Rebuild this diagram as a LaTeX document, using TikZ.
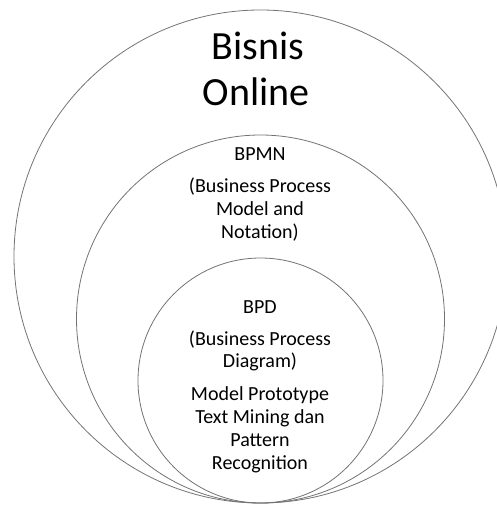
\documentclass[tikz,border=0pt]{standalone}
\usepackage{fontspec}
\setmainfont{Carlito}
\begin{document}
\begin{tikzpicture}[x=1pt,y=-1pt,
  ring/.style={draw=black!55, line width=0.8pt},
  big/.style={anchor=base, inner sep=0pt, font=\fontsize{40}{48}\selectfont},
  small/.style={anchor=base, inner sep=0pt, font=\fontsize{20}{24}\selectfont}]
\useasboundingbox (0,0) rectangle (496,506);
\draw[ring] (260.5,256.5) circle[radius=246.5];
\draw[ring] (260.5,319) circle[radius=184];
\draw[ring] (260.5,380.5) circle[radius=122.5];
\node[big] (t1) at (258,59) {Bisnis};
\node[big] (t2) at (256,105) {Online};
\node[small] (a1) at (260,160) {BPMN};
\node[small] (a2) at (260,192) {(Business Process};
\node[small] (a3) at (260,215) {Model and};
\node[small] (a4) at (260,238) {Notation)};
\node[small] (b1) at (260,313) {BPD};
\node[small] (b2) at (260,345) {(Business Process};
\node[small] (b3) at (260,367) {Diagram)};
\node[small] (b4) at (260,400) {Model Prototype};
\node[small] (b5) at (260,423) {Text Mining dan};
\node[small] (b6) at (260,446) {Pattern};
\node[small] (b7) at (260,469) {Recognition};
\end{tikzpicture}
\end{document}
